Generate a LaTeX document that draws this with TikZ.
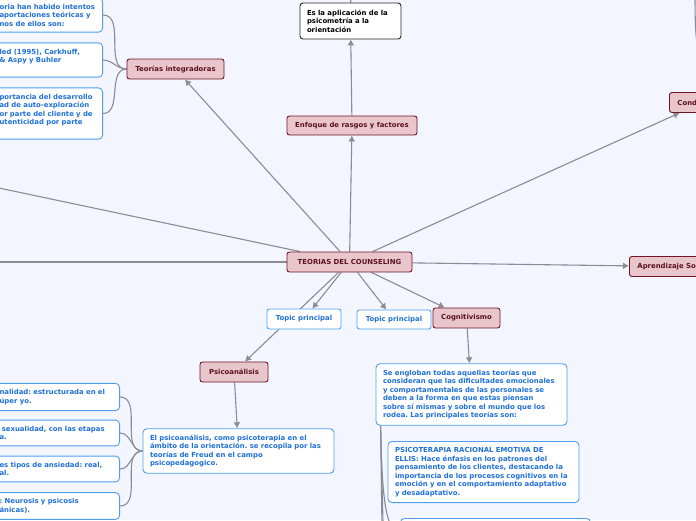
\documentclass[tikz,border=0pt]{standalone}
\usepackage{fontspec}
\setmainfont{DejaVu Sans}
\usetikzlibrary{arrows.meta,backgrounds}
\frenchspacing

\definecolor{bgblue}{HTML}{F3F6FE}
\definecolor{mainfill}{HTML}{E8C6CB}
\definecolor{maindraw}{HTML}{6E1624}
\definecolor{maintext}{HTML}{5C1020}
\definecolor{notedraw}{HTML}{4F9FEF}
\definecolor{notetext}{HTML}{1F70D8}
\definecolor{linkgray}{HTML}{8C8C92}

\tikzset{
  every node/.style={font=\bfseries\fontsize{6.9}{8.5}\selectfont},
  topicmain/.style={draw=maindraw, fill=mainfill, text=maintext, rounded corners=2.5pt,
    line width=0.9pt, minimum height=20pt, inner xsep=8pt},
  topicsub/.style={draw=notedraw, fill=white, text=notetext, rounded corners=2.5pt,
    line width=0.9pt, minimum height=20pt, inner xsep=8pt},
  notebox/.style={draw=notedraw, fill=white, text=notetext, rounded corners=4pt,
    line width=0.9pt, align=left, inner xsep=7pt, inner ysep=6pt},
  link/.style={draw=linkgray, line width=1.1pt},
  arr/.style={link, -{Latex[length=6pt,width=7pt]}}
}

\begin{document}
\begin{tikzpicture}[x=1pt, y=-1pt]
\useasboundingbox (0,0) rectangle (696,520);
\clip (0,0) rectangle (696,520);

\node[topicmain, minimum width=125pt](center) at (349.5, 262) {TEORIAS DEL COUNSELING};

\node[topicmain, minimum width=97pt](integr) at (175.5, 69) {Teorías integradoras};
\node[notebox, text width=96pt, anchor=east](lt1) at (103, 15)
  {oria han habido intentos\\ aportaciones teóricas y\\ nos de ellos son:};
\node[notebox, text width=96pt, anchor=east](lt2) at (103, 60)
  {led (1995), Carkhuff,\\ \& Aspy y Buhler\\ \mbox{}};
\node[notebox, text width=96pt, anchor=east](lt3) at (103, 113.5)
  {portancia del desarrollo\\ ad de auto-exploración\\ or parte del cliente y de\\ utenticidad por parte\\ \mbox{}};

\node[topicmain, minimum width=130pt, minimum height=19pt](enfoque) at (352, 125.5) {Enfoque de rasgos y factores};
\node[draw=black!85, fill=white, rounded corners=3pt, line width=0.9pt, align=left,
  text width=87pt, inner xsep=7pt, minimum height=36pt](aplic) at (350.5, 21)
  {Es la aplicación de la\\ psicometría a la\\ orientación};
\coordinate (aplicup) at (351, -20);

\node[topicmain, anchor=west](cond) at (669, 102.5) {Conductismo};
\coordinate (condfork) at (712, 62);
\coordinate (condup) at (695, -10);
\node[topicmain, anchor=west](aprend) at (629, 266.5) {Aprendizaje Social};

\coordinate (farleftup) at (-20, 184);
\coordinate (farleft) at (-20, 262);

\node[topicsub, minimum width=74pt](topic1) at (304, 319) {Topic principal};
\node[topicsub, minimum width=74pt, minimum height=19pt](topic2) at (394, 319.5) {Topic principal};
\node[topicmain, minimum width=67pt](cogn) at (466.5, 318) {Cognitivismo};

\node[topicmain, minimum width=68pt](psico) at (234, 372) {Psicoanálisis};
\node[notebox, text width=177pt](psicobox) at (238.5, 451)
  {El psicoanálisis, como psicoterapia en el\\ ámbito de la orientación. se recopila por las\\ teorías de Freud en el campo\\ psicopedagogico.};
\node[notebox, text width=113pt, anchor=east](lb1) at (120, 397) {nalidad: estructurada en el\\ úper yo.};
\node[notebox, text width=113pt, anchor=east](lb2) at (120, 433) {\ sexualidad, con las etapas\\ a.};
\node[notebox, text width=113pt, anchor=east](lb3) at (120, 469) {es tipos de ansiedad: real,\\ al.};
\node[notebox, text width=113pt, anchor=east](lb4) at (120, 506) {: Neurosis y psicosis\\ ánicas).};

\node[notebox, text width=177pt](cognbox) at (471.5, 394.5)
  {Se engloban todas aquellas teorías que\\ consideran que las dificultades emocionales\\ y comportamentales de las personales se\\ deben a la forma en que estas piensan\\ sobre sí mismas y sobre el mundo que los\\ rodea. Las principales teorías son:};
\node[notebox, text width=177pt](ellis) at (483.5, 472)
  {PSICOTERAPIA RACIONAL EMOTIVA DE\\ ELLIS: Hace énfasis en los patrones del\\ pensamiento de los clientes, destacando la\\ importancia de los procesos cognitivos en la\\ emoción y en el comportamiento adaptativo\\ y desadaptativo.};
\node[notebox, anchor=north west, minimum width=190pt, minimum height=28pt](third) at (400, 518) {};
\coordinate (cogfork) at ([xshift=5pt]cognbox.south west);
\coordinate (cogdown1) at (383, 600);
\coordinate (cogdown2) at (386, 640);

\begin{scope}[on background layer]
\fill[bgblue] (0,0) rectangle (696,520);

\draw[arr] (center) -- (integr);
\draw[arr] (center) -- (enfoque);
\draw[arr] (enfoque) -- (aplic);
\draw[link] (aplic) -- (aplicup);
\draw[arr] (center) -- (cond);
\draw[link] (condfork) .. controls (696,58) and (695,45) .. (condup);
\draw[arr] (center) -- (aprend);
\draw[link] (center) -- (farleftup);
\draw[link] (center) -- (farleft);
\draw[arr] (center) -- (topic1);
\draw[arr] (center) -- (psico);
\draw[arr] (center) -- (topic2);
\draw[arr] (center) -- (cogn);

\foreach \n in {lt1,lt2,lt3}
  \draw[link] (integr.west) to[out=180, in=0] (\n.east);

\draw[arr] (psico) -- (psicobox);
\foreach \n in {lb1,lb2,lb3,lb4}
  \draw[link] (psicobox.west) to[out=180, in=0] (\n.east);

\draw[arr] (cogn) -- (cognbox);
\draw[link] (cogfork) .. controls (382,500) and (386,532) .. (third.west);
\draw[link] (cogfork) -- (cogdown1);
\draw[link] (cogfork) -- (cogdown2);
\end{scope}

\end{tikzpicture}
\end{document}
